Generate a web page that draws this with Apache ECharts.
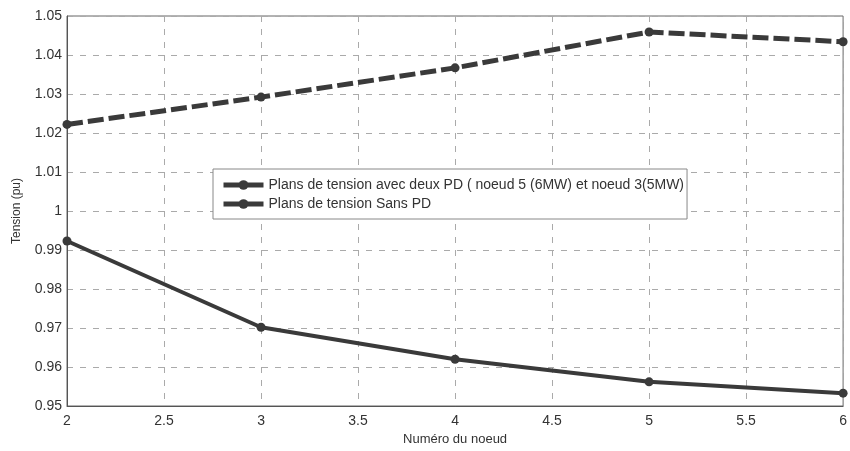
<!DOCTYPE html>
<html>
<head>
<meta charset="utf-8">
<script src="https://cdn.jsdelivr.net/npm/echarts@6/dist/echarts.min.js"></script>
<style>
html, body { margin: 0; padding: 0; background: #fff; }
#main { width: 850px; height: 451px; }
</style>
</head>
<body>
<div id="main"></div>
<script>
// noeuds et tensions
var noeuds = [2, 3, 4, 5, 6];
var avecPD = [1.0222, 1.0292, 1.0367, 1.0459, 1.0434];
var sansPD = [0.9923, 0.9702, 0.9620, 0.9562, 0.9533];
var nomAvec = 'Plans de tension avec deux PD ( noeud 5 (6MW) et noeud 3(5MW)';
var nomSans = 'Plans de tension Sans PD';

function paires(xs, ys) {
	var out = [];
	for (var i = 0; i < xs.length; i++) out.push([xs[i], ys[i]]);
	return out;
}

var chart = echarts.init(document.getElementById('main'));
var font = 'Liberation Sans, Arial, sans-serif';
var iconLine = { type: 'solid', width: 5, color: '#3a3a3a' };
chart.setOption({
	animation: false,
	backgroundColor: '#fff',
	grid: {
		left: 67, right: 2, top: 16, bottom: 45,
		show: true, borderColor: '#666', borderWidth: 1
	},
	legend: {
		left: 213, top: 169,
		orient: 'vertical',
		itemGap: 5,
		itemWidth: 40, itemHeight: 12,
		padding: [9, 3, 8, 8],
		borderColor: '#888', borderWidth: 1,
		backgroundColor: '#fff',
		textStyle: { fontFamily: font, fontSize: 14, color: '#333' },
		data: [
			{ name: nomAvec, lineStyle: iconLine },
			{ name: nomSans, lineStyle: iconLine }
		]
	},
	xAxis: {
		type: 'value', min: 2, max: 6, interval: 0.5,
		name: 'Numéro du noeud', nameLocation: 'middle', nameGap: 27,
		nameTextStyle: { fontFamily: font, fontSize: 13, color: '#333' },
		axisLine: { show: true, lineStyle: { color: '#555' } },
		axisTick: { show: false },
		axisLabel: { fontFamily: font, fontSize: 14, color: '#333', margin: 8 },
		splitLine: { show: true, lineStyle: { type: [6, 7], color: '#aaa' } }
	},
	yAxis: {
		type: 'value', min: 0.95, max: 1.05, interval: 0.01,
		name: 'Tension (pu)', nameLocation: 'middle', nameGap: 44,
		nameTextStyle: { fontFamily: font, fontSize: 12, color: '#333' },
		axisLine: { show: true, lineStyle: { color: '#555' } },
		axisTick: { show: false },
		axisLabel: {
			fontFamily: font, fontSize: 14, color: '#333', margin: 5,
			formatter: function (v) { return String(parseFloat(v.toFixed(2))); }
		},
		splitLine: { show: true, lineStyle: { type: [6, 7], color: '#aaa' } }
	},
	series: [{
		name: nomAvec,
		type: 'line',
		data: paires(noeuds, avecPD),
		symbol: 'circle', symbolSize: 9,
		itemStyle: { color: '#3a3a3a' },
		lineStyle: { color: '#3a3a3a', width: 5, type: [16, 5] }
	}, {
		name: nomSans,
		type: 'line',
		data: paires(noeuds, sansPD),
		symbol: 'circle', symbolSize: 9,
		itemStyle: { color: '#3a3a3a' },
		lineStyle: { color: '#3a3a3a', width: 4 }
	}]
});
</script>
</body>
</html>
